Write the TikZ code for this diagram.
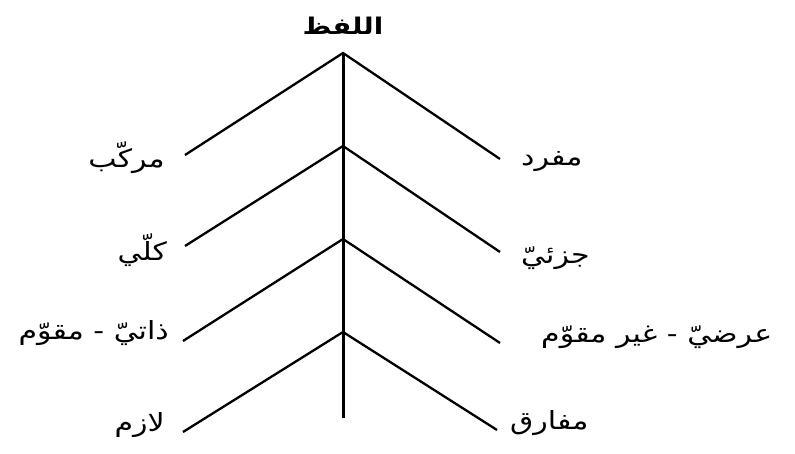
\documentclass[tikz,border=0pt]{standalone}
\usepackage{fontspec}
\TeXXeTstate=1
\newfontfamily\arabicfont[Script=Arabic,FakeStretch=1.2]{DejaVu Sans}
\begin{document}
\begin{tikzpicture}[x=1pt,y=-1pt,
  branch/.style={line width=2.3pt},
  trunk/.style={line width=3pt},
  lbl/.style={font=\arabicfont\fontsize{25}{28}\selectfont, inner sep=0pt},
  ttl/.style={font=\arabicfont\bfseries\fontsize{23}{26}\selectfont, inner sep=0pt}]
\useasboundingbox (0,0) rectangle (795,454);
% apexes
\coordinate (a1) at (343,53);
\coordinate (a2) at (343,146);
\coordinate (a3) at (343,239);
\coordinate (a4) at (343,332);
\coordinate (bot) at (343,418);
% ends
\coordinate (l1) at (185,155);
\coordinate (r1) at (500,159);
\coordinate (l2) at (185,246);
\coordinate (r2) at (500,252);
\coordinate (l3) at (183,341);
\coordinate (r3) at (500,343);
\coordinate (l4) at (183,432);
\coordinate (r4) at (497,430);
\node[ttl] (title) at (343,26) {\beginR اللفظ\endR};
\draw[trunk] (a1) -- (bot);
\draw[branch] (l1) -- (a1) -- (r1);
\draw[branch] (l2) -- (a2) -- (r2);
\draw[branch] (l3) -- (a3) -- (r3);
\draw[branch] (l4) -- (a4) -- (r4);
\node[lbl, anchor=east] (n1) at (165,158) {\beginR مركّب\endR};
\node[lbl, anchor=east] (n2) at (167,250) {\beginR كلّي\endR};
\node[lbl, anchor=east] (n3) at (169,333) {\beginR ذاتيّ - مقوّم\endR};
\node[lbl, anchor=east] (n4) at (165,425) {\beginR لازم\endR};
\node[lbl, anchor=west] (m1) at (521,162) {\beginR مفرد\endR};
\node[lbl, anchor=west] (m2) at (521,258) {\beginR جزئيّ\endR};
\node[lbl, anchor=west] (m3) at (541,337) {\beginR عرضيّ - غير مقوّم\endR};
\node[lbl, anchor=west] (m4) at (510,423) {\beginR مفارق\endR};
\end{tikzpicture}
\end{document}
